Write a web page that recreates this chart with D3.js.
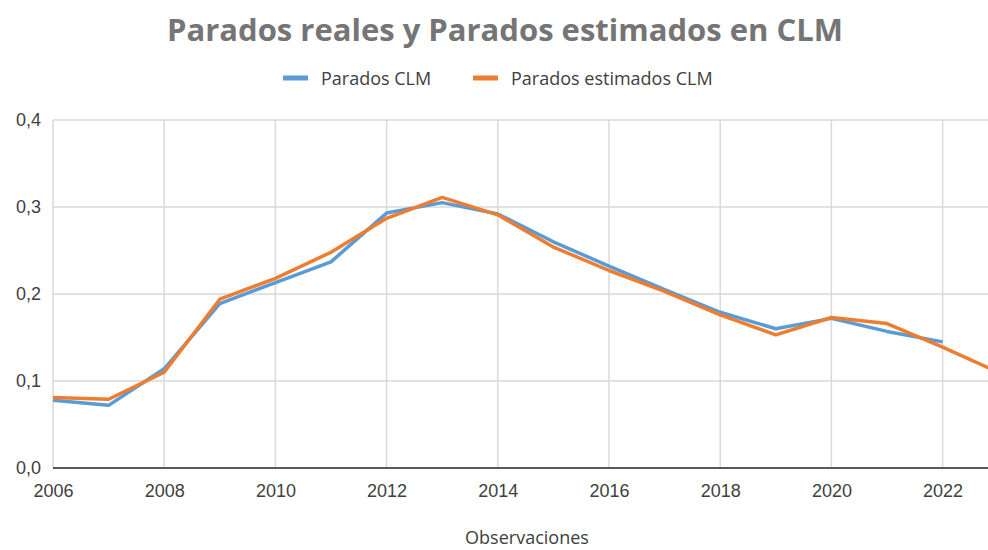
<!DOCTYPE html>
<html>
<head>
<meta charset="utf-8">
<script src="https://cdn.jsdelivr.net/npm/d3@7"></script>
<style>
  body { margin: 0; background: #fff; }
  svg { display: block; font-family: "Open Sans", sans-serif; }
</style>
</head>
<body>
<div class="chart"></div>
<script>
var years = d3.range(2006, 2024);
var paradosCLM = [0.078, 0.072, 0.114, 0.189, 0.213, 0.237, 0.293, 0.305, 0.292, 0.260, 0.232, 0.205, 0.179, 0.160, 0.172, 0.157, 0.145];
var paradosEstimados = [0.081, 0.079, 0.110, 0.194, 0.218, 0.248, 0.287, 0.311, 0.291, 0.254, 0.227, 0.203, 0.176, 0.153, 0.173, 0.166, 0.139, 0.110];
var yTicks = [0, 0.1, 0.2, 0.3, 0.4];
var xTicks = [2006, 2008, 2010, 2012, 2014, 2016, 2018, 2020, 2022];
var seriesNames = ['Parados CLM', 'Parados estimados CLM'];
var colors = ['#5B9BD5', '#ED7D31'];

var W = 988, H = 550;
var margin = { top: 120, right: 0, bottom: 82, left: 53 };

var svg = d3.select('.chart')
  .append('svg')
    .attr('width', W)
    .attr('height', H);

var x = d3.scaleLinear()
    .domain([2006, 2023])
    .range([margin.left, margin.left + 17 * 55.6]);
var y = d3.scaleLinear()
    .domain([0, 0.4])
    .range([H - margin.bottom, margin.top]);

// gridlines
svg.append('g')
  .selectAll('line')
  .data(yTicks.slice(1))
  .enter().append('line')
    .attr('x1', margin.left).attr('x2', W)
    .attr('y1', d => y(d)).attr('y2', d => y(d))
    .attr('stroke', '#d9d9d9').attr('stroke-width', 1.5);

svg.append('g')
  .selectAll('line')
  .data(xTicks)
  .enter().append('line')
    .attr('x1', d => x(d)).attr('x2', d => x(d))
    .attr('y1', y(0.4)).attr('y2', y(0))
    .attr('stroke', '#d9d9d9').attr('stroke-width', 1.5);

// x axis
var xAxis = d3.axisBottom(x)
    .tickValues(xTicks)
    .tickFormat(d3.format('d'))
    .tickSize(0)
    .tickPadding(16);
var gx = svg.append('g')
    .attr('transform', 'translate(0,' + y(0) + ')')
    .call(xAxis);
gx.select('.domain').remove();
gx.append('line')
    .attr('x1', margin.left).attr('x2', W)
    .attr('stroke', '#595959').attr('stroke-width', 2.2);
gx.selectAll('text')
    .attr('fill', '#404040')
    .style('font-size', '18px');

// y axis
var yAxis = d3.axisLeft(y)
    .tickValues(yTicks)
    .tickFormat(d => d3.format('.1f')(d).replace('.', ','))
    .tickSize(0)
    .tickPadding(12);
var gy = svg.append('g')
    .attr('transform', 'translate(' + margin.left + ',0)')
    .call(yAxis);
gy.select('.domain').remove();
gy.selectAll('text')
    .attr('fill', '#404040')
    .style('font-size', '18px');

// lines
var data = [paradosCLM, paradosEstimados];
var line = d3.line()
    .x((d, i) => x(years[i]))
    .y(d => y(d));

svg.append('g')
  .selectAll('path')
  .data(data)
  .enter().append('path')
    .attr('d', line)
    .attr('fill', 'none')
    .attr('stroke', (d, i) => colors[i])
    .attr('stroke-width', 3.5)
    .attr('stroke-linejoin', 'round');

// title
svg.append('text')
    .attr('x', 505).attr('y', 41)
    .attr('text-anchor', 'middle')
    .attr('fill', '#757575')
    .style('font-size', '31px')
    .style('font-weight', 'bold')
    .text('Parados reales y Parados estimados en CLM');

// legend
var legendX = [283, 473];
var legend = svg.append('g')
  .selectAll('g')
  .data(seriesNames)
  .enter().append('g')
    .attr('transform', (d, i) => 'translate(' + legendX[i] + ',78)');
legend.append('line')
    .attr('x1', 0).attr('x2', 25)
    .attr('stroke', (d, i) => colors[i])
    .attr('stroke-width', 5);
legend.append('text')
    .attr('x', 38).attr('y', 7)
    .attr('fill', '#404040')
    .style('font-size', '18px')
    .text(d => d);

// x axis title
svg.append('text')
    .attr('x', 527).attr('y', 544)
    .attr('text-anchor', 'middle')
    .attr('fill', '#404040')
    .style('font-size', '18px')
    .text('Observaciones');
</script>
</body>
</html>
